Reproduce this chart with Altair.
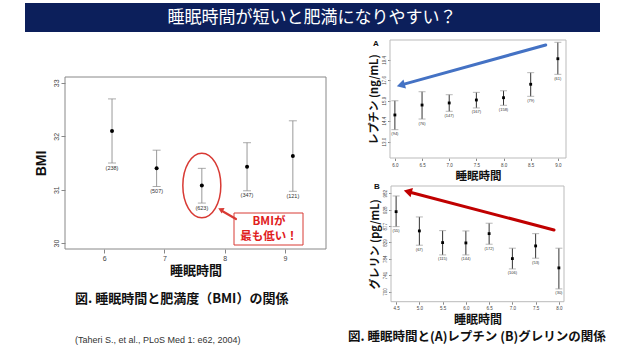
import altair as alt
import pandas as pd

CJK = "Noto Sans CJK JP"
LAT = "Liberation Sans"
W, H = 628, 354

# ---------------- data ----------------
# BMI vs sleep hours
bmi_hours = [6.13, 6.87, 7.62, 8.37, 9.13]
bmi_mean = [32.10, 31.40, 31.08, 31.43, 31.63]
bmi_hi = [32.70, 31.74, 31.40, 31.88, 32.29]
bmi_lo = [31.50, 31.06, 30.75, 30.98, 30.97]
bmi_n = ["(238)", "(507)", "(623)", "(347)", "(121)"]

# (A) leptin vs sleep hours
lep_hours = [6.0, 6.5, 7.0, 7.5, 8.0, 8.5, 9.0]
lep_mean = [14.81, 15.55, 15.71, 15.94, 16.12, 17.22, 19.52]
lep_hi = [15.88, 16.60, 16.36, 16.55, 16.68, 18.23, 21.16]
lep_lo = [13.78, 14.52, 15.08, 15.33, 15.53, 16.23, 18.08]
lep_n = ["(94)", "(76)", "(147)", "(167)", "(158)", "(79)", "(61)"]

# (B) ghrelin vs sleep hours
ghr_hours = [4.5, 5.0, 5.5, 6.0, 6.5, 7.0, 7.5, 8.0]
ghr_mean = [921.8, 862.6, 828.6, 827.7, 854.6, 784.2, 819.2, 759.5]
ghr_hi = [973.0, 905.2, 863.5, 862.6, 885.8, 812.8, 854.6, 812.8]
ghr_lo = [875.5, 821.2, 794.2, 794.2, 824.0, 756.8, 785.3, 706.5]
ghr_n = ["(55)", "(67)", "(115)", "(144)", "(172)", "(106)", "(53)", "(30)"]

bmi_xticks = [6, 7, 8, 9]
bmi_yticks = [30, 31, 32, 33]
lep_xticks = [6.0, 6.5, 7.0, 7.5, 8.0, 8.5, 9.0]
lep_yticks = [13.0, 14.4, 15.9, 17.6, 19.4]
ghr_xticks = [4.5, 5.0, 5.5, 6.0, 6.5, 7.0, 7.5, 8.0]
ghr_yticks = [700, 741, 784, 829, 877, 928, 982]

title_text = "睡眠時間が短いと肥満になりやすい？"
cap_left = "図. 睡眠時間と肥満度（BMI）の関係"
cap_right = "図. 睡眠時間と(A)レプチン (B)グレリンの関係"
citation = "(Taheri S., et al., PLoS Med 1: e62, 2004)"


def make_df(h, m, hi, lo, n):
    return pd.DataFrame(dict(h=h, m=m, hi=hi, lo=lo, n=n))


def panel(df, xdom, xrng, ydom, yrng, ylog, xvals, yvals, xfmt, yfmt,
          xtitle, ytitle, xt_size, yt_size, xt_pad, yt_pad, yt_font,
          lab_size, tick_size, cap_w, rule_col, cap_col, pt_mark, n_size,
          frame_col, extra=None):
    xs = alt.Scale(domain=xdom, range=xrng, nice=False, zero=False)
    if ylog:
        ys = alt.Scale(type="log", domain=ydom, range=yrng, nice=False)
    else:
        ys = alt.Scale(domain=ydom, range=yrng, nice=False, zero=False)
    xaxis = alt.Axis(orient="bottom", offset=yrng[0] - H, values=xvals, format=xfmt,
                     title=xtitle, titleFont=CJK, titleFontSize=xt_size,
                     titleFontWeight="bold", titleColor="#111", titlePadding=xt_pad,
                     labelFont=LAT, labelFontSize=lab_size, labelColor="#444",
                     labelPadding=1.5, tickSize=tick_size, tickColor="#888",
                     domain=False, grid=False)
    yaxis = alt.Axis(orient="left", offset=-xrng[0], values=yvals, format=yfmt,
                     title=ytitle, titleFont=yt_font, titleFontSize=yt_size,
                     titleFontWeight="bold", titleColor="#111", titlePadding=yt_pad,
                     labelFont=LAT, labelFontSize=lab_size, labelColor="#444",
                     labelAngle=270, labelAlign="center", labelBaseline="bottom",
                     labelPadding=1.5, tickSize=tick_size, tickColor="#888",
                     domain=False, grid=False)
    base = alt.Chart(df)
    X = alt.X("h:Q", scale=xs, axis=xaxis)
    frame_df = pd.DataFrame(dict(x0=[xdom[0]], x1=[xdom[1]], y0=[ydom[0]], y1=[ydom[1]]))
    frame = alt.Chart(frame_df).mark_rect(fillOpacity=0, stroke=frame_col, strokeWidth=1).encode(
        x=alt.X("x0:Q", scale=xs, axis=xaxis), x2="x1:Q",
        y=alt.Y("y0:Q", scale=ys, axis=yaxis), y2="y1:Q")
    rules = base.mark_rule(color=rule_col, strokeWidth=1).encode(
        x=X, y=alt.Y("lo:Q", scale=ys, axis=yaxis), y2="hi:Q")
    cap_hi = base.mark_tick(orient="horizontal", size=cap_w, thickness=1, color=cap_col).encode(
        x=X, y=alt.Y("hi:Q", scale=ys, axis=yaxis))
    cap_lo = base.mark_tick(orient="horizontal", size=cap_w, thickness=1, color=cap_col).encode(
        x=X, y=alt.Y("lo:Q", scale=ys, axis=yaxis))
    pts = pt_mark(base).encode(x=X, y=alt.Y("m:Q", scale=ys, axis=yaxis))
    labs = base.mark_text(font=LAT, fontSize=n_size, color="#333", baseline="top", dy=2.5).encode(
        x=X, y=alt.Y("lo:Q", scale=ys, axis=yaxis), text="n:N")
    layers = [frame, rules, cap_hi, cap_lo, pts, labs]
    if extra is not None:
        layers.append(extra(base, X, alt.Y("m:Q", scale=ys, axis=yaxis)))
    return alt.layer(*layers)


def ellipse(base, X, Y):
    return base.transform_filter(alt.datum.n == "(623)").mark_point(
        shape="M-1,0A1,1.7,0,1,0,1,0A1,1.7,0,1,0,-1,0Z", size=38 * 38, filled=False,
        stroke="#d83a34", strokeWidth=1.5, opacity=1).encode(x=X, y=Y)


left = panel(make_df(bmi_hours, bmi_mean, bmi_hi, bmi_lo, bmi_n),
             [5.35, 9.68], [65, 326], [29.89, 33.11], [249, 77], False,
             bmi_xticks, bmi_yticks, "d", "d", "睡眠時間", "BMI", 13, 14, 3, 4, LAT,
             7, 4, 8, "#999", "#888",
             lambda b: b.mark_circle(size=16, color="black", opacity=1), 5.5, "#888",
             extra=ellipse)

panelA = panel(make_df(lep_hours, lep_mean, lep_hi, lep_lo, lep_n),
               [5.91, 9.15], [390, 566], [11.99, 21.4], [158, 40], True,
               lep_xticks, lep_yticks, ".1f", ".1f", "睡眠時間", "レプチン (ng/mL)", 11.5, 11, 4, 2, CJK,
               4.5, 2.5, 7, "#333", "#999",
               lambda b: b.mark_square(size=8, color="black", opacity=1), 4, "#bbb")

panelB = panel(make_df(ghr_hours, ghr_mean, ghr_hi, ghr_lo, ghr_n),
               [4.39, 8.11], [391, 564], [676, 1007], [301.7, 186], True,
               ghr_xticks, ghr_yticks, ".1f", "d", "睡眠時間", "グレリン (pg/mL)", 12, 11, 4.5, 2, CJK,
               4.5, 2.5, 7, "#333", "#999",
               lambda b: b.mark_square(size=8, color="black", opacity=1), 4, "#bbb")

# ---------------- decorations ----------------
one = alt.Chart(pd.DataFrame({"k": [0]}))


def txt(s, x, y, size, color="#111", weight="normal", font=CJK, align="left", baseline="middle"):
    return one.mark_text(text=s, font=font, fontSize=size, color=color, fontWeight=weight,
                         align=align, baseline=baseline).encode(x=alt.value(x), y=alt.value(y))


def box(x0, x1, y0, y1, **kw):
    return one.mark_rect(**kw).encode(x=alt.value(x0), x2=alt.value(x1), y=alt.value(y0), y2=alt.value(y1))


def line(x0, y0, x1, y1, color, width):
    return one.mark_rule(color=color, strokeWidth=width, strokeCap="round").encode(
        x=alt.value(x0), y=alt.value(y0), x2=alt.value(x1), y2=alt.value(y1))


def head(x, y, angle, color, size):
    return one.mark_point(shape="triangle", filled=True, size=size, angle=angle, color=color,
                          opacity=1).encode(x=alt.value(x), y=alt.value(y))


deco = [
    box(25, 600, 3, 32, color="#0c1f5b"),
    txt(title_text, 312, 18, 17, color="white", align="center"),
    # callout
    box(234, 303, 213, 245, fill="white", stroke="#d83a34", strokeWidth=1),
    txt("BMIが", 269, 222, 11.5, color="#e0201c", weight="bold", align="center"),
    txt("最も低い！", 269, 237, 11.5, color="#e0201c", weight="bold", align="center"),
    line(236, 219, 223, 211.5, "#d83a34", 2.2),
    head(221.5, 209.9, 298, "#d83a34", 40),
    # arrows on right panels
    line(545.7, 45, 405, 83.9, "#4472c4", 3),
    head(402.1, 84.7, 254.6, "#4472c4", 90),
    line(554, 230, 412, 192.7, "#c00000", 3),
    head(409.1, 192.0, 284.7, "#c00000", 90),
    txt("A", 376, 44, 8, weight="bold", font=LAT, align="center"),
    txt("B", 377, 187, 8, weight="bold", font=LAT, align="center"),
    # captions
    txt(cap_left, 75, 299, 13, weight="bold"),
    txt(cap_right, 348, 337, 12.5, weight="bold"),
    txt(citation, 75, 340, 9, color="#333", font=LAT),
]

chart = alt.layer(left, panelA, panelB, *deco).resolve_scale(
    x="independent", y="independent"
).properties(
    width=W, height=H, padding=0, autosize=alt.AutoSizeParams(type="none"),
    background="white"
).configure_view(stroke=None)

chart.save("out.html", embed_options={"renderer": "svg", "actions": False})
